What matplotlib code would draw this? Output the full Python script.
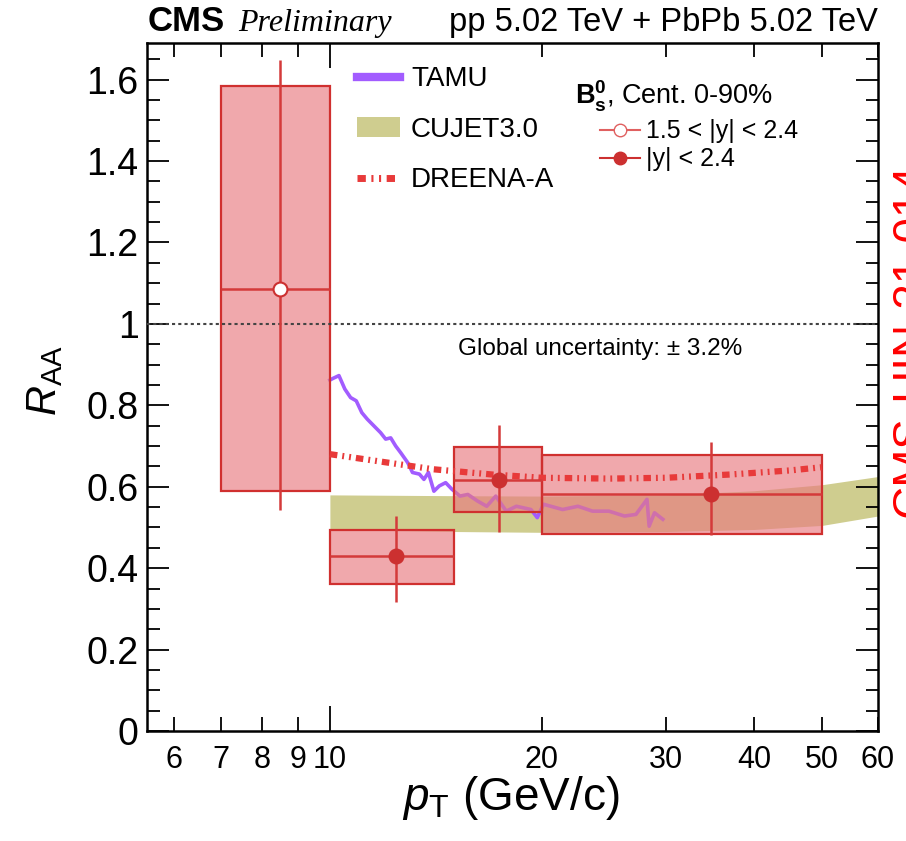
import numpy as np
import matplotlib
matplotlib.use("Agg")
import matplotlib.pyplot as plt
from matplotlib.lines import Line2D
from matplotlib.patches import Patch

plt.rcParams["font.family"] = ["Liberation Sans", "DejaVu Sans"]
plt.rcParams["mathtext.fontset"] = "custom"
plt.rcParams["mathtext.rm"] = "Liberation Sans"
plt.rcParams["mathtext.it"] = "Liberation Sans:italic"
plt.rcParams["mathtext.bf"] = "Liberation Sans:bold"

# ---------------------------------------------------------------------
# Data
# ---------------------------------------------------------------------
# 1.5 < |y| < 2.4 (open marker)
fwd_lo, fwd_hi = [7.0], [10.0]
fwd_pt = [8.5]
fwd_raa = [1.085]
fwd_stat_lo, fwd_stat_hi = [0.544], [1.648]
fwd_syst_lo, fwd_syst_hi = [0.589], [1.584]

# |y| < 2.4 (filled marker)
cen_lo = [10.0, 15.0, 20.0]
cen_hi = [15.0, 20.0, 50.0]
cen_pt = [12.4, 17.4, 34.8]
cen_raa = [0.430, 0.617, 0.581]
cen_stat_lo = [0.318, 0.490, 0.482]
cen_stat_hi = [0.527, 0.751, 0.709]
cen_syst_lo = [0.362, 0.537, 0.483]
cen_syst_hi = [0.493, 0.697, 0.677]

# TAMU
tamu_pt = [10.0, 10.1, 10.3, 10.5, 10.7, 10.9, 11.1, 11.3, 11.6, 11.8, 12.0,
           12.2, 12.4, 12.6, 12.9, 13.1, 13.4, 13.6, 13.8, 14.05, 14.3, 14.6,
           14.9, 15.3, 15.7, 16.2, 16.7, 17.2, 17.8, 18.4, 19.3, 19.7, 20.1,
           21.4, 22.5, 23.6, 24.9, 26.2, 27.2, 28.2, 28.4, 28.9, 29.7]
tamu_raa = [0.862, 0.866, 0.873, 0.840, 0.819, 0.811, 0.782, 0.766, 0.746,
            0.733, 0.717, 0.720, 0.700, 0.684, 0.659, 0.635, 0.631, 0.618,
            0.635, 0.589, 0.602, 0.610, 0.594, 0.577, 0.581, 0.565, 0.552,
            0.577, 0.540, 0.552, 0.544, 0.524, 0.557, 0.544, 0.552, 0.540,
            0.540, 0.528, 0.532, 0.569, 0.503, 0.536, 0.520]

# CUJET3.0 band
cujet_pt = [10, 15, 20, 30, 40, 50, 60]
cujet_hi = [0.580, 0.578, 0.577, 0.580, 0.590, 0.605, 0.625]
cujet_lo = [0.495, 0.490, 0.488, 0.490, 0.495, 0.505, 0.528]

# DREENA-A
dreena_pt = [10, 12, 14, 17, 20, 25, 30, 37, 45, 50]
dreena_raa = [0.680, 0.660, 0.643, 0.630, 0.622, 0.620, 0.622, 0.630, 0.640, 0.648]

x_ticks = [6, 7, 8, 9, 10, 20, 30, 40, 50, 60]
y_ticks = [0, 0.2, 0.4, 0.6, 0.8, 1.0, 1.2, 1.4, 1.6]
y_labels = ["0", "0.2", "0.4", "0.6", "0.8", "1", "1.2", "1.4", "1.6"]

# ---------------------------------------------------------------------
fig = plt.figure(figsize=(9.06, 8.41), dpi=100)
ax = fig.add_axes([0.1623, 0.1308, 0.8067, 0.8181])
ax.set_xscale("log")
ax.set_xlim(5.5, 60)
ax.set_ylim(0, 1.69)

box_face = "#e87a80"
box_edge = "#d0302f"
pt_col = "#cc3030"
dreena_dash = [1.2, 0.8, 0.3, 0.8, 0.3, 0.8]

ax.fill_between(cujet_pt, cujet_lo, cujet_hi, color="#cfcd8f", lw=0, zorder=1)
ax.plot(tamu_pt, tamu_raa, color="#a25cff", lw=2.6, zorder=2)

# systematic boxes
for lo, hi, s_lo, s_hi in [(fwd_lo, fwd_hi, fwd_syst_lo, fwd_syst_hi),
                           (cen_lo, cen_hi, cen_syst_lo, cen_syst_hi)]:
    lo, hi = np.array(lo), np.array(hi)
    s_lo, s_hi = np.array(s_lo), np.array(s_hi)
    ax.bar(lo, s_hi - s_lo, width=hi - lo, bottom=s_lo, align="edge",
           color=box_face, alpha=0.65, edgecolor="none", zorder=3)
    ax.bar(lo, s_hi - s_lo, width=hi - lo, bottom=s_lo, align="edge",
           fill=False, edgecolor=box_edge, lw=1.6, zorder=3.5)

ax.plot(dreena_pt, dreena_raa, color="#e83a3a", lw=4.5, dashes=dreena_dash, zorder=4)

ax.axhline(1.0, color="#444444", lw=1.5, ls=(0, (1.5, 1.5)), zorder=4)

# stat error bars and points
for pt, raa, st_lo, st_hi, lo, hi, face in [
        (fwd_pt, fwd_raa, fwd_stat_lo, fwd_stat_hi, fwd_lo, fwd_hi, "white"),
        (cen_pt, cen_raa, cen_stat_lo, cen_stat_hi, cen_lo, cen_hi, pt_col)]:
    pt, raa = np.array(pt), np.array(raa)
    yerr = [raa - np.array(st_lo), np.array(st_hi) - raa]
    xerr = [pt - np.array(lo), np.array(hi) - pt]
    ax.errorbar(pt, raa, yerr=yerr, xerr=xerr, fmt="o", ms=10,
                mfc=face, mec=pt_col, mew=1.5, color="#d43a3a",
                elinewidth=1.8, capsize=0, zorder=5)

# axes styling (ROOT-like)
ax.set_xticks(x_ticks)
ax.set_xticklabels([str(v) for v in x_ticks])
ax.xaxis.set_minor_locator(matplotlib.ticker.NullLocator())
ax.set_yticks(y_ticks)
ax.set_yticklabels(y_labels)
ax.yaxis.set_minor_locator(matplotlib.ticker.MultipleLocator(0.05))
ax.tick_params(axis="both", which="both", direction="in", top=True, right=True,
               width=1.3, color="black")
ax.tick_params(axis="x", which="major", length=10, labelsize=22, pad=10)
ax.tick_params(axis="y", which="major", length=16, labelsize=27, pad=6)
ax.tick_params(axis="y", which="minor", length=9)
for i, v in enumerate(x_ticks):
    if v == 10:
        t = ax.xaxis.get_major_ticks()[i]
        t.tick1line.set_markersize(18)
        t.tick2line.set_markersize(18)
for s in ax.spines.values():
    s.set_linewidth(1.8)

ax.set_xlabel(r"$p_{\mathrm{T}}$ (GeV/c)", fontsize=33)
ax.xaxis.set_label_coords(0.497, -0.062)
ax.set_ylabel(r"$R_{\mathrm{AA}}$", fontsize=30)
ax.yaxis.set_label_coords(-0.112, 0.51)

# legends
h1 = [Line2D([], [], color="#a25cff", lw=6),
      Patch(facecolor="#cfcd8f", edgecolor="none"),
      Line2D([], [], color="#e83a3a", lw=5, dashes=dreena_dash)]
leg1 = ax.legend(h1, ["TAMU", "CUJET3.0", "DREENA-A"], loc="upper left",
                 bbox_to_anchor=(0.287, 0.966), frameon=False, fontsize=20,
                 borderpad=0, borderaxespad=0,
                 handlelength=1.55, handletextpad=0.4, labelspacing=0.88)
ax.add_artist(leg1)

h2 = [Line2D([], [], color="#e06060", lw=1.5, marker="o", ms=9, mfc="white", mec="#e06060"),
      Line2D([], [], color=pt_col, lw=1.5, marker="o", ms=9, mfc=pt_col, mec=pt_col)]
ax.legend(h2, ["1.5 < |y| < 2.4", "|y| < 2.4"], loc="upper left",
          bbox_to_anchor=(0.62, 0.889), frameon=False, fontsize=18,
          borderpad=0, borderaxespad=0,
          handlelength=1.6, handletextpad=0.25, labelspacing=0.16)
ax.text(0.585, 0.922, r"$\mathbf{B}^{\mathbf{0}}_{\mathbf{s}}$, Cent. 0-90%",
        transform=ax.transAxes, fontsize=19.5, ha="left", va="center")

ax.text(0.426, 0.555, "Global uncertainty: \u00b1 3.2%", transform=ax.transAxes,
        fontsize=17.5, ha="left", va="center")

# header
fig.text(148 / 906, 1 - 31 / 841, "CMS", fontsize=25, fontweight="bold",
         ha="left", va="baseline")
fig.text(238 / 906, 1 - 31 / 841, "Preliminary", fontsize=23,
         family="Liberation Serif", style="italic", ha="left", va="baseline")
fig.text(878 / 906, 1 - 31 / 841, "pp 5.02 TeV + PbPb 5.02 TeV", fontsize=23.5,
         ha="right", va="baseline")

fig.text(912 / 906, 1 - 340 / 841, "CMS-HIN-21-014", fontsize=33, color="#ff0000",
         rotation=90, ha="center", va="center")

fig.savefig("out.png", dpi=100)
